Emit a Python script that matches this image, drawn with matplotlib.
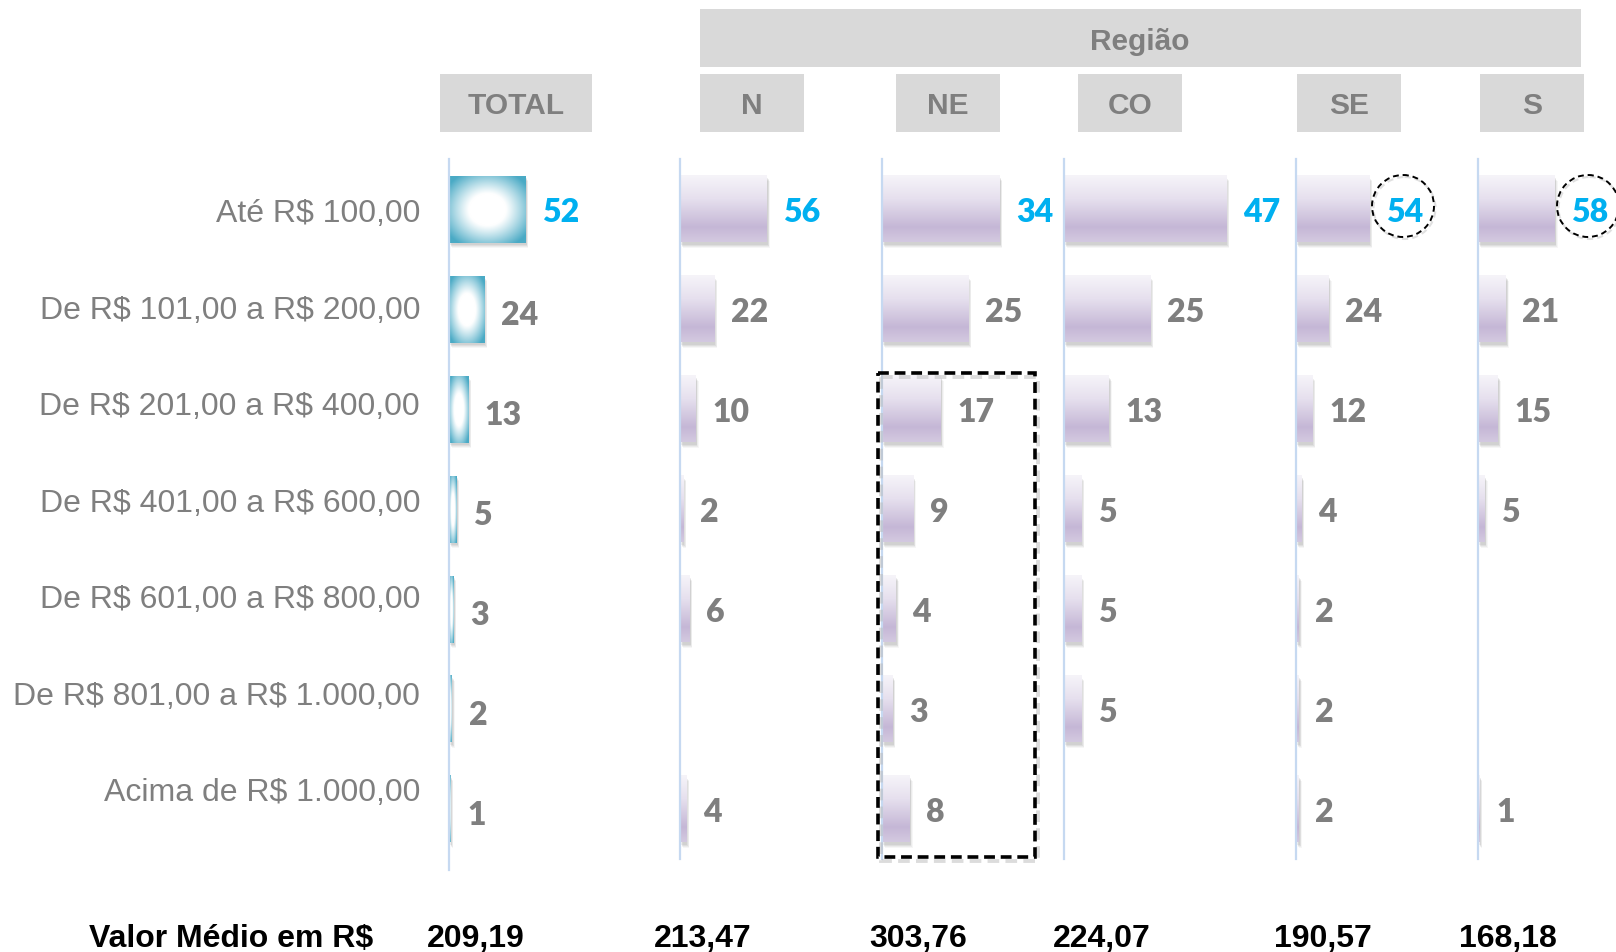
import numpy as np
import matplotlib
matplotlib.use('Agg')
import matplotlib.pyplot as plt
from matplotlib.patches import Rectangle, Circle
from matplotlib.colors import LinearSegmentedColormap, to_rgb

nan = np.nan
# ---------------- data ----------------
categories = ["Até R$ 100,00", "De R$ 101,00 a R$ 200,00", "De R$ 201,00 a R$ 400,00",
              "De R$ 401,00 a R$ 600,00", "De R$ 601,00 a R$ 800,00",
              "De R$ 801,00 a R$ 1.000,00", "Acima de R$ 1.000,00"]
panels = ["TOTAL", "N", "NE", "CO", "SE", "S"]
total_vals = [52, 24, 13, 5, 3, 2, 1]
n_vals = [56, 22, 10, 2, 6, nan, 4]
ne_vals = [34, 25, 17, 9, 4, 3, 8]
co_vals = [47, 25, 13, 5, 5, 5, nan]
se_vals = [54, 24, 12, 4, 2, 2, 2]
s_vals = [58, 21, 15, 5, nan, nan, 1]
mean_values = ["209,19", "213,47", "303,76", "224,07", "190,57", "168,18"]
mean_label = "Valor Médio em R$"
group_label = "Região"
panel_values = [total_vals, n_vals, ne_vals, co_vals, se_vals, s_vals]

# ---------------- layout (pixels) ----------------
W, H = 1616, 953
fig = plt.figure(figsize=(W / 100, H / 100), dpi=100)

panel_left = [449, 680, 882, 1064, 1296, 1478]
panel_scale = [1.47, 1.55, 3.45, 3.45, 1.357, 1.32]
panel_bottom = [871, 860, 860, 860, 860, 860]
panel_width = [180, 180, 180, 225, 180, 138]
top_px = 160
row0, row_step = 210, 100
bar_h = 0.67

GRAY = '#7f7f7f'
BLUE = '#00b0f0'
AXIS_LINE = '#c6d9f1'

teal = np.array(to_rgb('#4aaac5'))
white = np.array([1.0, 1.0, 1.0])


def radial_img(nx=160, ny=160):
    u = np.linspace(-1, 1, nx)
    v = np.linspace(-1, 1, ny)
    U, V = np.meshgrid(u, v)
    r = np.sqrt(U ** 2 + V ** 2)
    t = np.clip((r - 0.48) / (1.25 - 0.48), 0, 1) ** 1.1
    img = white[None, None, :] * (1 - t[..., None]) + teal[None, None, :] * t[..., None]
    return img


lav_cmap = LinearSegmentedColormap.from_list(
    'lav', [(0.0, '#f6f4f9'), (0.35, '#e6e0ee'), (0.78, '#c5b7d6'), (1.0, '#d3c9e0')])


def linear_img(ny=100):
    t = np.linspace(0, 1, ny)
    col = lav_cmap(t)[:, :3]
    return np.repeat(col[:, None, :], 4, axis=1)


rad = radial_img()
lin = linear_img()

for p, (name, vals) in enumerate(zip(panels, panel_values)):
    L = panel_left[p]
    sc = panel_scale[p]
    bot = panel_bottom[p]
    aw = panel_width[p]
    ax = fig.add_axes([L / W, 1 - bot / H, aw / W, (bot - top_px) / H])
    ax.set_facecolor('none')
    xmax = aw / sc
    ylo = (bot - row0) / row_step
    yhi = (top_px - row0) / row_step
    for i, v in enumerate(vals):
        if np.isnan(v):
            continue
        # soft shadow
        for k, a in [(5, 0.05), (4, 0.07), (3, 0.09), (2, 0.10)]:
            ax.add_patch(Rectangle((k * 0.6 / sc, i - bar_h / 2 + k / row_step), v, bar_h,
                                   facecolor='#606060', edgecolor='none', alpha=a, zorder=1))
        img = rad if p == 0 else lin
        ax.imshow(img, extent=(0, v, i + bar_h / 2, i - bar_h / 2), origin='upper',
                  aspect='auto', interpolation='bilinear', zorder=2)
        col = BLUE if i == 0 else GRAY
        dy = -2 if (p == 0 and i > 0) else 0
        ax.annotate(f"{v:g}", (v, i), xytext=(12, dy), textcoords='offset points',
                    ha='left', va='center_baseline', fontsize=23, fontweight='heavy',
                    family='Lato', color=col, zorder=5)
    ax.set_xlim(0, xmax)
    ax.set_ylim(ylo, yhi)
    ax.set_xticks([])
    ax.set_yticks([])
    for s in ['top', 'right', 'bottom']:
        ax.spines[s].set_visible(False)
    ax.spines['left'].set_color(AXIS_LINE)
    ax.spines['left'].set_linewidth(1.6)

# ---------------- overlay ----------------
ov = fig.add_axes([0, 0, 1, 1], zorder=10)
ov.set_facecolor('none')
ov.set_xlim(0, W)
ov.set_ylim(H, 0)
ov.axis('off')

# header boxes
header_boxes = [(440, 592), (700, 804), (896, 1000), (1078, 1182), (1297, 1401), (1480, 1584)]
for (x0, x1), name in zip(header_boxes, panels):
    ov.add_patch(Rectangle((x0, 75), x1 - x0, 58, facecolor='#d9d9d9', edgecolor='none'))
    ov.text((x0 + x1) / 2, 106, name, ha='center', va='center', fontsize=21.5,
            fontweight='bold', color=GRAY, family='Liberation Sans')
ov.add_patch(Rectangle((700, 10), 881, 58, facecolor='#d9d9d9', edgecolor='none'))
ov.text(1140, 42, group_label, ha='center', va='center', fontsize=21.5,
        fontweight='bold', color=GRAY, family='Liberation Sans')

# category labels
for i, c in enumerate(categories):
    ov.text(420, 211 + 96.5 * i, c, ha='right', va='center_baseline', fontsize=23,
            color=GRAY, family='Liberation Sans', parse_math=False)

# bottom row
ov.text(373, 947, mean_label, ha='right', va='baseline', fontsize=23,
        fontweight='bold', color='black', family='Liberation Sans', parse_math=False)
mean_x = [476, 703, 918, 1102, 1323, 1508]
for x, m in zip(mean_x, mean_values):
    ov.text(x, 947, m, ha='center', va='baseline', fontsize=23,
            fontweight='bold', color='black', family='Liberation Sans')

# dashed highlight rectangle (NE, rows 3-7)
ov.add_patch(Rectangle((881, 378), 157, 484, facecolor='none', edgecolor='#bbbbbb',
                       lw=2.8, alpha=0.5, linestyle=(0, (3, 1.6))))
ov.add_patch(Rectangle((878, 374), 157, 484, facecolor='none', edgecolor='black',
                       lw=2.6, linestyle=(0, (3, 1.6))))

# dashed circles
for cx in [1403, 1588]:
    ov.add_patch(Circle((cx + 1.5, 209), 31, facecolor='none', edgecolor='#cccccc',
                        lw=1.5, alpha=0.6, linestyle=(0, (3, 2))))
    ov.add_patch(Circle((cx, 207), 31, facecolor='none', edgecolor='black',
                        lw=1.4, linestyle=(0, (3, 2))))

fig.savefig('out.png', dpi=100, facecolor='white')
